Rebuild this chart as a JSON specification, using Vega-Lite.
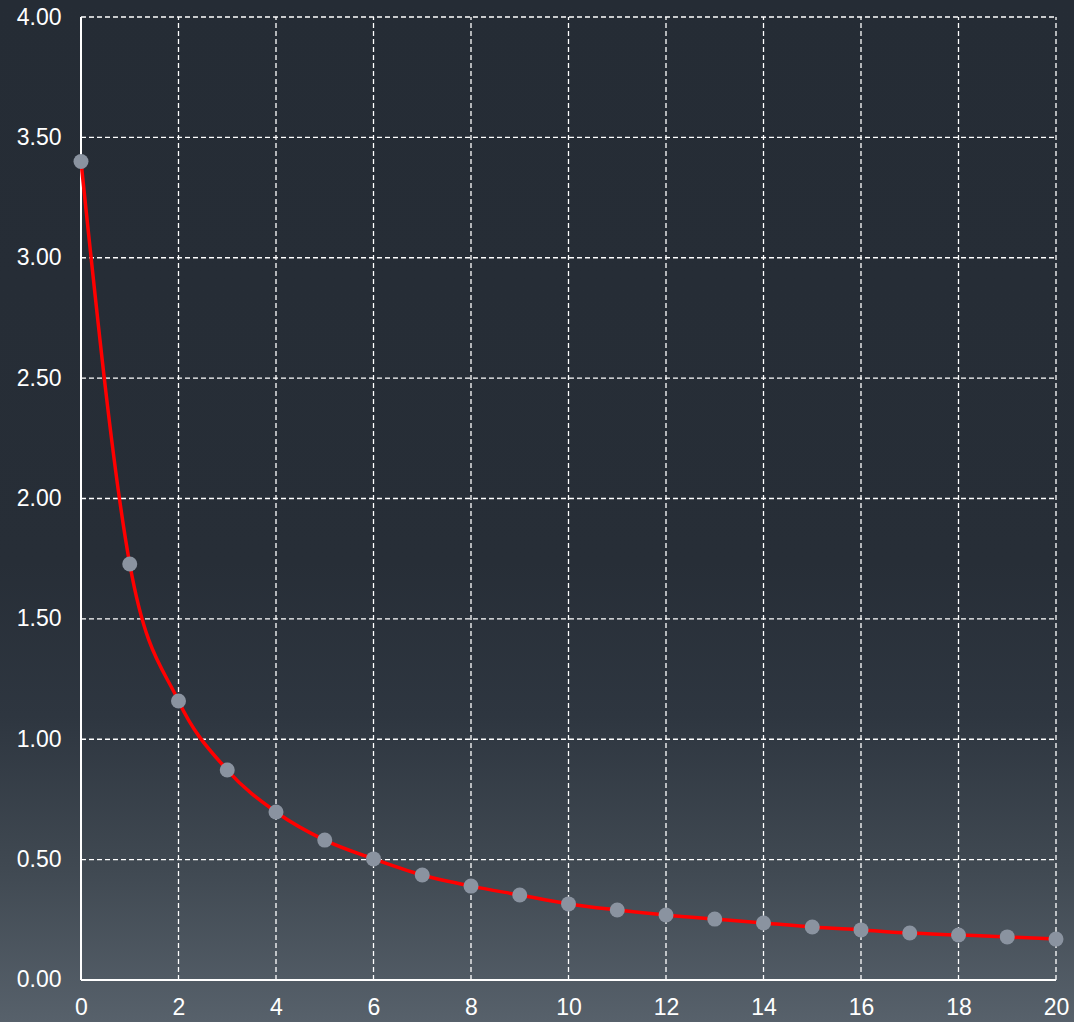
{
  "$schema": "https://vega.github.io/schema/vega-lite/v6.json",
  "width": 1074,
  "height": 1022,
  "autosize": {"type": "none"},
  "padding": 0,
  "background": "#252c35",
  "config": {
    "view": {
      "fill": {"gradient": "linear", "x1": 0, "y1": 0, "x2": 0, "y2": 1, "stops": [
        {"offset": 0, "color": "#252c35"},
        {"offset": 0.55, "color": "#272e37"},
        {"offset": 0.7, "color": "#2e3640"},
        {"offset": 0.85, "color": "#404952"},
        {"offset": 1, "color": "#57616b"}
      ]},
      "stroke": null
    },
    "axis": {
      "labelColor": "#ffffff",
      "labelFont": "Liberation Sans",
      "labelFontSize": 23,
      "labelFlush": false,
      "labelOverlap": false,
      "grid": false,
      "domain": false,
      "ticks": false,
      "title": null
    }
  },
  "datasets": {
    "pts": [
      {"x": 0, "y": 3.40},
      {"x": 1, "y": 1.728},
      {"x": 2, "y": 1.159},
      {"x": 3, "y": 0.872},
      {"x": 4, "y": 0.698},
      {"x": 5, "y": 0.581},
      {"x": 6, "y": 0.503},
      {"x": 7, "y": 0.436},
      {"x": 8, "y": 0.390},
      {"x": 9, "y": 0.353},
      {"x": 10, "y": 0.316},
      {"x": 11, "y": 0.291},
      {"x": 12, "y": 0.270},
      {"x": 13, "y": 0.253},
      {"x": 14, "y": 0.237},
      {"x": 15, "y": 0.220},
      {"x": 16, "y": 0.208},
      {"x": 17, "y": 0.195},
      {"x": 18, "y": 0.187},
      {"x": 19, "y": 0.179},
      {"x": 20, "y": 0.170}
    ],
    "vgrid": [
      {"v": 0}, {"v": 2}, {"v": 4}, {"v": 6}, {"v": 8}, {"v": 10},
      {"v": 12}, {"v": 14}, {"v": 16}, {"v": 18}, {"v": 20}
    ],
    "hgrid": [
      {"h": 0}, {"h": 0.5}, {"h": 1}, {"h": 1.5}, {"h": 2},
      {"h": 2.5}, {"h": 3}, {"h": 3.5}, {"h": 4}
    ],
    "axes": [
      {"x0": 0, "x1": 20, "y0": 0, "y1": 4}
    ]
  },
  "layer": [
    {
      "data": {"name": "vgrid"},
      "mark": {"type": "rule", "color": "#ffffff", "strokeWidth": 1.3, "strokeDash": [5, 3]},
      "encoding": {
        "x": {
          "field": "v", "type": "quantitative",
          "scale": {"domain": [-1.661538, 20.369231], "nice": false, "zero": false},
          "axis": {"orient": "bottom", "offset": -42, "values": [0, 2, 4, 6, 8, 10, 12, 14, 16, 18, 20], "labelPadding": 16, "format": "d"}
        },
        "y": {
          "datum": 0, "type": "quantitative",
          "scale": {"domain": [-0.174455, 4.070613], "nice": false, "zero": false},
          "axis": {"orient": "left", "offset": -81, "values": [0, 0.5, 1, 1.5, 2, 2.5, 3, 3.5, 4], "format": ".2f", "labelPadding": 20}
        },
        "y2": {"datum": 4}
      }
    },
    {
      "data": {"name": "hgrid"},
      "mark": {"type": "rule", "color": "#ffffff", "strokeWidth": 1.3, "strokeDash": [5, 3]},
      "encoding": {
        "y": {"field": "h", "type": "quantitative", "scale": {"domain": [-0.174455, 4.070613], "nice": false, "zero": false}},
        "x": {"datum": 0, "type": "quantitative", "scale": {"domain": [-1.661538, 20.369231], "nice": false, "zero": false}},
        "x2": {"datum": 20}
      }
    },
    {
      "data": {"name": "axes"},
      "mark": {"type": "rule", "color": "#ffffff", "strokeWidth": 2},
      "encoding": {
        "x": {"field": "x0", "type": "quantitative", "scale": {"domain": [-1.661538, 20.369231], "nice": false, "zero": false}},
        "y": {"field": "y0", "type": "quantitative", "scale": {"domain": [-0.174455, 4.070613], "nice": false, "zero": false}},
        "y2": {"field": "y1"}
      }
    },
    {
      "data": {"name": "axes"},
      "mark": {"type": "rule", "color": "#ffffff", "strokeWidth": 2},
      "encoding": {
        "y": {"field": "y0", "type": "quantitative", "scale": {"domain": [-0.174455, 4.070613], "nice": false, "zero": false}},
        "x": {"field": "x0", "type": "quantitative", "scale": {"domain": [-1.661538, 20.369231], "nice": false, "zero": false}},
        "x2": {"field": "x1"}
      }
    },
    {
      "data": {"name": "pts"},
      "mark": {"type": "line", "color": "#ff0000", "strokeWidth": 3.5, "interpolate": "monotone"},
      "encoding": {
        "x": {"field": "x", "type": "quantitative", "scale": {"domain": [-1.661538, 20.369231], "nice": false, "zero": false}},
        "y": {"field": "y", "type": "quantitative", "scale": {"domain": [-0.174455, 4.070613], "nice": false, "zero": false}}
      }
    },
    {
      "data": {"name": "pts"},
      "mark": {"type": "point", "filled": true, "color": "#8a93a0", "opacity": 1, "size": 225},
      "encoding": {
        "x": {"field": "x", "type": "quantitative", "scale": {"domain": [-1.661538, 20.369231], "nice": false, "zero": false}},
        "y": {"field": "y", "type": "quantitative", "scale": {"domain": [-0.174455, 4.070613], "nice": false, "zero": false}}
      }
    }
  ]
}
